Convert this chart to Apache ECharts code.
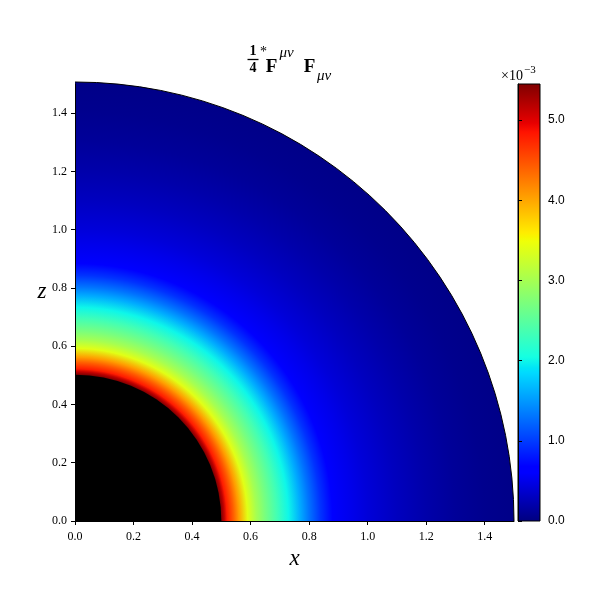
<!DOCTYPE html>
<html><head><meta charset="utf-8">
<script src="https://cdn.jsdelivr.net/npm/echarts@6/dist/echarts.min.js"></script>
<style>html,body{margin:0;padding:0;background:#fff}#c{width:600px;height:600px}</style>
</head><body><div id="c"></div>
<script>
// ---- data ----
const xTicks = [0.0, 0.2, 0.4, 0.6, 0.8, 1.0, 1.2, 1.4];
const zTicks = [0.0, 0.2, 0.4, 0.6, 0.8, 1.0, 1.2, 1.4];
const cbTicks = [0, 1, 2, 3, 4, 5];
const cbMax = 5.45;            // colorbar top (x1e-3)
const innerRadius = 0.5;       // black inner region
const radii  = [0.50, 0.51, 0.52, 0.54, 0.56, 0.59, 0.62, 0.65, 0.69, 0.73, 0.77, 0.80, 0.84, 0.88, 0.95, 1.00, 1.10, 1.20, 1.30, 1.40, 1.50];
const values = [5.45, 5.15, 4.80, 4.45, 4.05, 3.40, 3.00, 2.70, 2.35, 2.00, 1.60, 1.30, 0.95, 0.68, 0.50, 0.42, 0.30, 0.20, 0.12, 0.07, 0.04];

// ---- jet colormap (style) ----
const JR = [[0,0],[0.35,0],[0.66,1],[0.89,1],[1,0.5]];
const JG = [[0,0],[0.125,0],[0.375,1],[0.64,1],[0.91,0],[1,0]];
const JB = [[0,0.5],[0.11,1],[0.34,1],[0.65,0],[1,0]];
function seg(t, s){
  t = Math.max(0, Math.min(1, t));
  for (let i = 0; i < s.length - 1; i++) {
    if (t <= s[i+1][0]) {
      const f = (t - s[i][0]) / (s[i+1][0] - s[i][0]);
      return s[i][1] + f * (s[i+1][1] - s[i][1]);
    }
  }
  return s[s.length-1][1];
}
function jet(t){
  const r = Math.round(255*seg(t,JR)), g = Math.round(255*seg(t,JG)), b = Math.round(255*seg(t,JB));
  return 'rgb(' + r + ',' + g + ',' + b + ')';
}
const jetBreaks = [0,0.11,0.125,0.34,0.35,0.375,0.64,0.65,0.66,0.89,0.91,1];

// ring segments, outermost first so inner ones paint over (no seams)
const segments = [];
for (let i = radii.length - 2; i >= 0; i--) segments.push([radii[i], radii[i+1], values[i], values[i+1]]);

const SERIF = '"Liberation Serif","DejaVu Serif",serif';
const SANS = '"Liberation Sans","DejaVu Sans",sans-serif';
const chart = echarts.init(document.getElementById('c'), null, {renderer:'canvas'});

const q = -Math.PI/2;
function txt(x, y, s, size, opt){
  opt = opt || {};
  return {type:'text', x:x, y:y, z:20, style:{text:s, fontSize:size, fontFamily:opt.family || SERIF,
    fontWeight:opt.weight || 'normal', fontStyle:opt.style || 'normal', fill:'#000',
    align:opt.align || 'center', verticalAlign:'middle'}};
}
const option = {
  animation: false,
  backgroundColor: '#fff',
  grid: [
    {left: 75, top: 84, width: 439, height: 437},
    {left: 518, top: 84, width: 22, height: 437}
  ],
  xAxis: [
    {type:'value', gridIndex:0, min:0, max:1.5, z:10,
     axisLine:{show:true, onZero:false, lineStyle:{color:'#000', width:1}},
     axisTick:{show:true, length:4, customValues:xTicks, lineStyle:{color:'#000'}},
     axisLabel:{customValues:xTicks, formatter:v=>v.toFixed(1), color:'#000', fontFamily:SERIF, fontSize:12, margin:10},
     splitLine:{show:false},
     name:'x', nameLocation:'middle', nameGap:26,
     nameTextStyle:{fontFamily:SERIF, fontStyle:'italic', fontSize:23, color:'#000'}},
    {type:'value', gridIndex:1, min:0, max:1, show:false}
  ],
  yAxis: [
    {type:'value', gridIndex:0, min:0, max:1.5, z:10,
     axisLine:{show:true, onZero:false, lineStyle:{color:'#000', width:1}},
     axisTick:{show:true, length:4, customValues:zTicks, lineStyle:{color:'#000'}},
     axisLabel:{customValues:zTicks, formatter:v=>v.toFixed(1), color:'#000', fontFamily:SERIF, fontSize:12, margin:8},
     splitLine:{show:false}},
    {type:'value', gridIndex:1, min:0, max:cbMax, position:'right', z:10,
     axisLine:{show:true, lineStyle:{color:'#000', width:1}},
     axisTick:{show:true, length:4, customValues:cbTicks, lineStyle:{color:'#000'}},
     axisLabel:{customValues:cbTicks, formatter:v=>v.toFixed(1), color:'#000', fontFamily:SANS, fontSize:12, margin:8},
     splitLine:{show:false}}
  ],
  series: [
    { // coloured annulus
      type:'custom', xAxisIndex:0, yAxisIndex:0, z:2, silent:true, clip:false,
      data: segments,
      renderItem: function(params, api){
        const c = api.coord([0,0]);
        const r0 = api.coord([api.value(0),0])[0] - c[0];
        const r1 = api.coord([api.value(1),0])[0] - c[0];
        return {type:'sector',
          shape:{cx:c[0], cy:c[1], r0:0, r:r1, startAngle:q, endAngle:0, clockwise:true},
          style:{fill:{type:'radial', x:c[0], y:c[1], r:r1, global:true,
            colorStops:[{offset:0, color:jet(api.value(2)/cbMax)},
                        {offset:r0/r1, color:jet(api.value(2)/cbMax)},
                        {offset:1, color:jet(api.value(3)/cbMax)}]}}};
      }
    },
    { // inner black disk and outer outline
      type:'custom', xAxisIndex:0, yAxisIndex:0, z:3, silent:true, clip:false,
      data:[[innerRadius, radii[radii.length-1]]],
      renderItem: function(params, api){
        const c = api.coord([0,0]);
        const ri = api.coord([api.value(0),0])[0] - c[0];
        const ro = api.coord([api.value(1),0])[0] - c[0];
        return {type:'group', children:[
          {type:'sector', shape:{cx:c[0], cy:c[1], r0:0, r:ri, startAngle:q, endAngle:0, clockwise:true}, style:{fill:'#000'}},
          {type:'arc', shape:{cx:c[0], cy:c[1], r:ro, startAngle:q, endAngle:0, clockwise:true}, style:{stroke:'#000', lineWidth:1, fill:null}}
        ]};
      }
    },
    { // colorbar
      type:'custom', xAxisIndex:1, yAxisIndex:1, z:2, silent:true,
      data:[[0, cbMax]],
      renderItem: function(params, api){
        const p0 = api.coord([0, api.value(0)]);
        const p1 = api.coord([1, api.value(1)]);
        return {type:'rect',
          shape:{x:p0[0], y:p1[1], width:p1[0]-p0[0], height:p0[1]-p1[1]},
          style:{stroke:'#000', lineWidth:1,
            fill:{type:'linear', x:0, y:p0[1], x2:0, y2:p1[1], global:true,
              colorStops: jetBreaks.map(t=>({offset:t, color:jet(t)}))}}};
      }
    }
  ],
  graphic: [
    txt(512, 76, '×10', 14),
    txt(524, 70, '−3', 11, {align:'left'}),
    txt(42, 292, 'z', 23, {style:'italic'}),
    // title: 1/4 *F^{μν} F_{μν}
    txt(253, 51, '1', 14, {weight:'bold'}),
    {type:'line', z:20, shape:{x1:247.5, y1:59.5, x2:258.5, y2:59.5}, style:{stroke:'#000', lineWidth:1.3}},
    txt(253, 68, '4', 14, {weight:'bold'}),
    txt(263.5, 52, '*', 14),
    txt(271.5, 67.5, 'F', 19, {weight:'bold'}),
    txt(279.5, 53, 'μν', 15, {style:'italic', align:'left'}),
    txt(309.5, 67.5, 'F', 19, {weight:'bold'}),
    txt(317, 76, 'μν', 15, {style:'italic', align:'left'})
  ]
};
chart.setOption(option);
</script>
</body></html>
